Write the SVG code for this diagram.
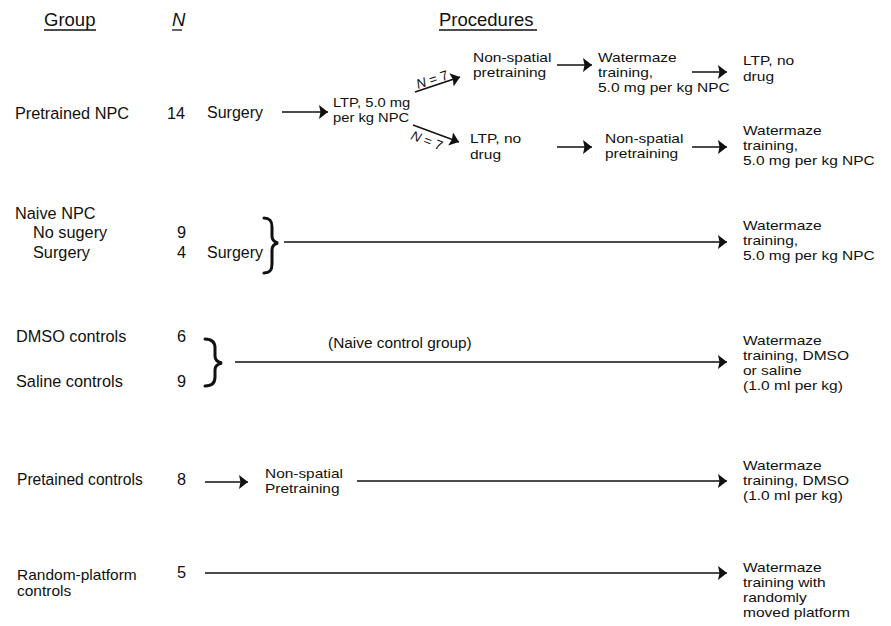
<svg xmlns="http://www.w3.org/2000/svg" width="891" height="626" viewBox="0 0 891 626">
<defs>
<style>
text{font-family:"Liberation Sans",Arial,Helvetica,sans-serif;fill:#111;}
.hd{font-size:18.5px;}
.lb{font-size:16.3px;}
.lbs{font-size:13.9px;}
.md{font-size:16px;}
.pr{font-size:13.4px;}
.nl{font-size:13.5px;}
.ln{stroke:#111;stroke-width:1.4;fill:none;}
.ul{stroke:#111;stroke-width:1.3;}
.br{stroke:#111;stroke-width:3;fill:none;stroke-linecap:round;}
</style>
<marker id="ah" markerUnits="userSpaceOnUse" markerWidth="12" markerHeight="16" refX="9" refY="7" orient="auto">
<path d="M0,0 L9,7 L0,14 L1.5,7 z" fill="#111"/>
</marker>
</defs>
<rect width="891" height="626" fill="#fff"/>

<g id="header">
<text class="hd" x="44" y="26">Group</text>
<line class="ul" x1="44" y1="30" x2="96" y2="30"/>
<text class="hd" x="172" y="26" font-style="italic">N</text>
<line class="ul" x1="172" y1="30" x2="182" y2="30"/>
<text class="hd" x="439" y="26">Procedures</text>
<line class="ul" x1="439" y1="30" x2="537" y2="30"/>
</g>

<g id="row-pretrained-npc">
<text class="lb" x="15" y="119">Pretrained NPC</text>
<text class="lb" x="167" y="119">14</text>
<text class="md" x="207" y="118">Surgery</text>
<g transform="translate(333,0) scale(1.1,1)">
<text class="pr" x="0" y="107">LTP, 5.0 mg</text>
<text class="pr" x="0" y="122">per kg NPC</text>
</g>
<text class="nl" transform="translate(418,89) rotate(-18)"><tspan font-style="italic">N</tspan> = 7</text>
<text class="nl" transform="translate(410,139) rotate(21)"><tspan font-style="italic">N</tspan> = 7</text>
</g>

<g id="upper-branch">
<g transform="translate(473,0) scale(1.157,1)">
<text class="pr" x="0" y="62">Non-spatial</text>
<text class="pr" x="0" y="77">pretraining</text>
</g>
<g transform="translate(598,0) scale(1.157,1)">
<text class="pr" x="0" y="62">Watermaze</text>
<text class="pr" x="0" y="77">training,</text>
<text class="pr" x="0" y="92">5.0 mg per kg NPC</text>
</g>
<g transform="translate(743,0) scale(1.157,1)">
<text class="pr" x="0" y="65">LTP, no</text>
<text class="pr" x="0" y="81">drug</text>
</g>
</g>

<g id="lower-branch">
<g transform="translate(470,0) scale(1.157,1)">
<text class="pr" x="0" y="143">LTP, no</text>
<text class="pr" x="0" y="159">drug</text>
</g>
<g transform="translate(605,0) scale(1.157,1)">
<text class="pr" x="0" y="143">Non-spatial</text>
<text class="pr" x="0" y="158">pretraining</text>
</g>
<g transform="translate(743,0) scale(1.157,1)">
<text class="pr" x="0" y="135">Watermaze</text>
<text class="pr" x="0" y="150">training,</text>
<text class="pr" x="0" y="165">5.0 mg per kg NPC</text>
</g>
</g>

<g id="row-naive-npc">
<text class="lb" x="15" y="219">Naive NPC</text>
<text class="lb" x="33" y="238">No sugery</text>
<text class="lb" x="33" y="258">Surgery</text>
<text class="lb" x="177" y="238">9</text>
<text class="lb" x="177" y="258">4</text>
<text class="md" x="207" y="258">Surgery</text>
<g transform="translate(743,0) scale(1.157,1)">
<text class="pr" x="0" y="230">Watermaze</text>
<text class="pr" x="0" y="245">training,</text>
<text class="pr" x="0" y="260">5.0 mg per kg NPC</text>
</g>
</g>

<g id="row-naive-controls">
<text class="lb" x="16" y="342">DMSO controls</text>
<text class="lb" x="16" y="387">Saline controls</text>
<text class="lb" x="177" y="342">6</text>
<text class="lb" x="177" y="387">9</text>
<text class="md" x="328" y="348" style="font-size:15.4px">(Naive control group)</text>
<g transform="translate(743,0) scale(1.157,1)">
<text class="pr" x="0" y="345">Watermaze</text>
<text class="pr" x="0" y="360">training, DMSO</text>
<text class="pr" x="0" y="375">or saline</text>
<text class="pr" x="0" y="390">(1.0 ml per kg)</text>
</g>
</g>

<g id="row-pretrained-controls">
<text class="lb" x="17" y="485" style="font-size:15.6px">Pretained controls</text>
<text class="lb" x="177" y="485">8</text>
<g transform="translate(265,0) scale(1.15,1)">
<text class="pr" x="0" y="478">Non-spatial</text>
<text class="pr" x="0" y="493">Pretraining</text>
</g>
<g transform="translate(743,0) scale(1.157,1)">
<text class="pr" x="0" y="470">Watermaze</text>
<text class="pr" x="0" y="485">training, DMSO</text>
<text class="pr" x="0" y="500">(1.0 ml per kg)</text>
</g>
</g>

<g id="row-random-platform">
<g transform="translate(17,0) scale(1.115,1)">
<text class="lbs" x="0" y="580">Random-platform</text>
<text class="lbs" x="0" y="596">controls</text>
</g>
<text class="lb" x="177" y="578">5</text>
<g transform="translate(743,0) scale(1.157,1)">
<text class="pr" x="0" y="572">Watermaze</text>
<text class="pr" x="0" y="587">training with</text>
<text class="pr" x="0" y="602">randomly</text>
<text class="pr" x="0" y="617">moved platform</text>
</g>
</g>

<g id="connectors">
<line class="ln" x1="282" y1="112" x2="328" y2="112" marker-end="url(#ah)"/>
<line class="ln" x1="415" y1="92" x2="460" y2="77" marker-end="url(#ah)"/>
<line class="ln" x1="413" y1="125" x2="459" y2="142" marker-end="url(#ah)"/>
<line class="ln" x1="557" y1="65" x2="592" y2="65" marker-end="url(#ah)"/>
<line class="ln" x1="692" y1="72" x2="727" y2="72" marker-end="url(#ah)"/>
<line class="ln" x1="557" y1="147" x2="592" y2="147" marker-end="url(#ah)"/>
<line class="ln" x1="692" y1="147" x2="727" y2="147" marker-end="url(#ah)"/>
<path class="br" d="M264,218 C270,218 272,221 272,227 L272,236 C272,240 274,242 278,243 C274,244 272,246 272,250 L272,264 C272,270 270,273 264,273"/>
<line class="ln" x1="284" y1="242" x2="727" y2="242" marker-end="url(#ah)"/>
<path class="br" d="M205,339 C212,339 215,342 215,348 L215,356 C215,360 217,362 222,363 C217,364 215,366 215,370 L215,377 C215,383 212,386 205,386"/>
<line class="ln" x1="235" y1="362" x2="727" y2="362" marker-end="url(#ah)"/>
<line class="ln" x1="205" y1="482" x2="248" y2="482" marker-end="url(#ah)"/>
<line class="ln" x1="357" y1="481" x2="727" y2="481" marker-end="url(#ah)"/>
<line class="ln" x1="205" y1="573" x2="727" y2="573" marker-end="url(#ah)"/>
</g>
</svg>
